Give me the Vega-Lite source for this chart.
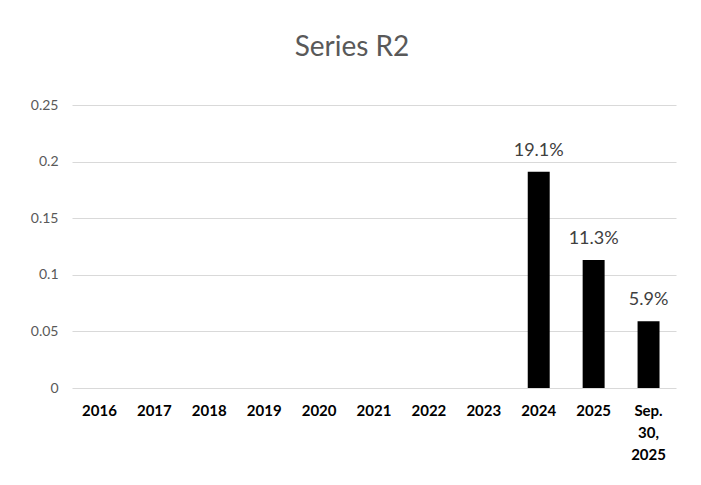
{
  "$schema": "https://vega.github.io/schema/vega-lite/v6.json",
  "autosize": "none",
  "width": 604,
  "height": 283,
  "padding": {"left": 72, "top": 105, "right": 25, "bottom": 97},
  "background": "white",
  "config": {"view": {"stroke": null}, "font": "Lato"},
  "title": {"text": "Series R2", "fontSize": 28, "font": "Lato", "fontWeight": "normal", "color": "#595959", "anchor": "middle", "offset": 36, "dx": -22},
  "data": {"values": [
    {"period": "2016", "value": 0},
    {"period": "2017", "value": 0},
    {"period": "2018", "value": 0},
    {"period": "2019", "value": 0},
    {"period": "2020", "value": 0},
    {"period": "2021", "value": 0},
    {"period": "2022", "value": 0},
    {"period": "2023", "value": 0},
    {"period": "2024", "value": 0.191},
    {"period": "2025", "value": 0.113},
    {"period": "Sep. 30, 2025", "value": 0.059}
  ]},
  "encoding": {
    "x": {"field": "period", "type": "nominal", "sort": null,
      "scale": {"paddingInner": 0.6, "paddingOuter": 0.3},
      "axis": {"title": null, "labelAngle": 0, "labelFontWeight": "bold", "labelFontSize": 15, "labelColor": "#000000", "labelPadding": 15, "ticks": false, "domain": false, "labelLineHeight": 22, "labelBaseline": "top",
        "labelExpr": "datum.value == 'Sep. 30, 2025' ? ['Sep.', '30,', '2025'] : datum.value"}},
    "y": {"field": "value", "type": "quantitative",
      "scale": {"domain": [0, 0.25], "nice": false},
      "axis": {"title": null, "values": [0, 0.05, 0.1, 0.15, 0.2, 0.25], "format": "~g", "ticks": false, "domain": false, "labelFontSize": 14, "labelColor": "#595959", "labelPadding": 14, "gridColor": "#d9d9d9", "gridWidth": 1.2}}
  },
  "layer": [
    {"mark": {"type": "bar", "color": "#000000"}},
    {"transform": [{"filter": "datum.value > 0"}],
      "mark": {"type": "text", "baseline": "bottom", "dy": -12, "fontSize": 18, "color": "#404040"},
      "encoding": {"text": {"field": "value", "type": "quantitative", "format": ".1%"}}}
  ]
}
